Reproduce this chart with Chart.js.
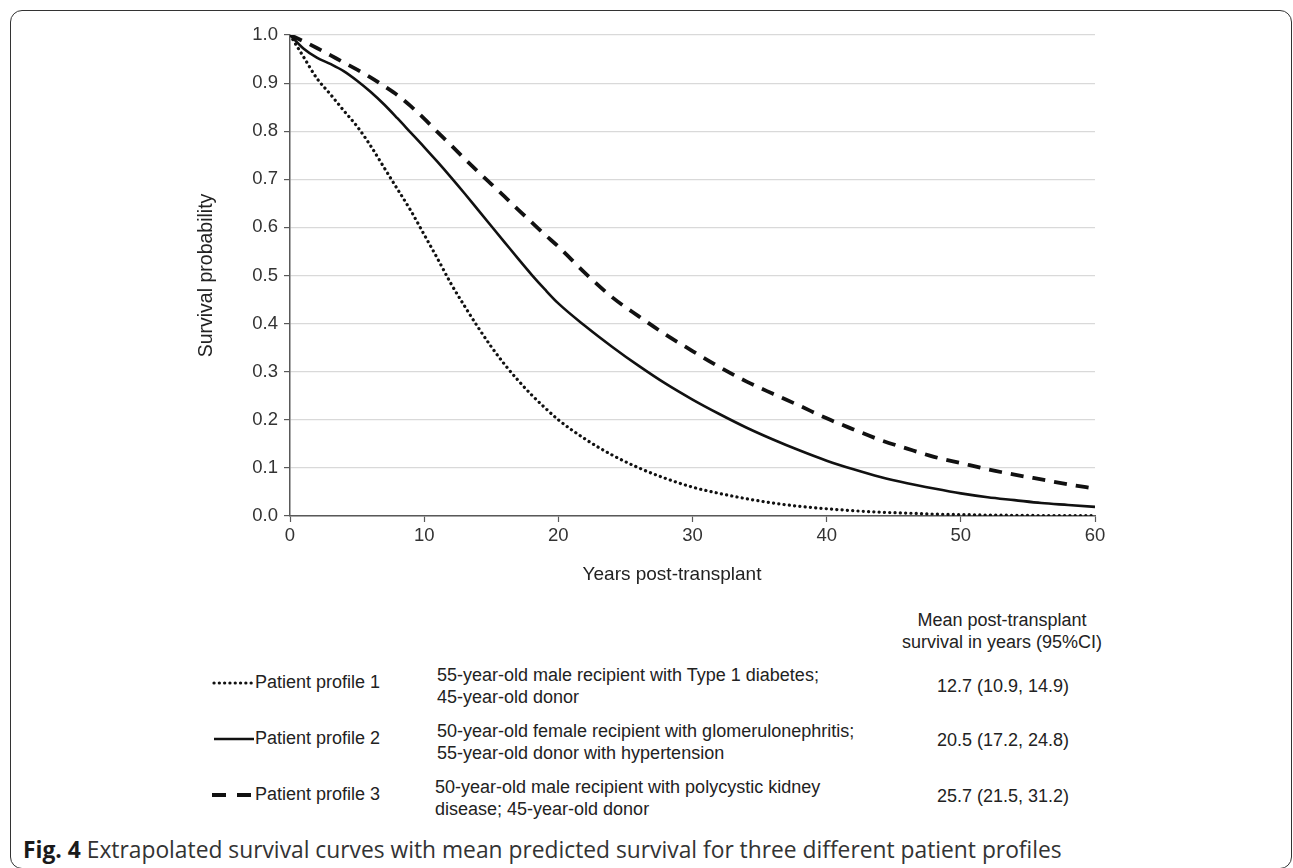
<!DOCTYPE html>
<html>
<head>
<meta charset="utf-8">
<script src="https://cdn.jsdelivr.net/npm/chart.js@4.4.1/dist/chart.umd.min.js"></script>
<style>
  html, body { margin: 0; padding: 0; background: #fff; }
  body { width: 1293px; height: 868px; position: relative; overflow: hidden; font-family: "Liberation Sans", Arial, sans-serif; color: #222; }
  #frame { position: absolute; left: 10px; top: 10px; width: 1282px; height: 859px; border: 1.5px solid #333; border-radius: 12px; box-sizing: border-box; }
  #chartBox { position: absolute; left: 0; top: 0; width: 1293px; height: 600px; }
  .abs { position: absolute; white-space: nowrap; }
  #xtitle { font-size: 19px; color: #222; }
  .hdr { font-size: 18px; text-align: center; width: 300px; }
  .lbl { font-size: 18px; }
  .desc { font-size: 18px; line-height: 22px; }
  .val { font-size: 18px; text-align: center; width: 300px; }
  #caption { font-family: "Open Sans", sans-serif; font-size: 22.8px; color: #333; }
  #caption b { color: #1a1a1a; }
</style>
</head>
<body>
<div id="frame"></div>
<div id="chartBox"><canvas id="c" width="1293" height="600"></canvas></div>
<div id="xtitle" class="abs"></div>
<div id="legend"></div>
<div id="caption" class="abs"></div>
<script>
// ---- data ----
const years = [0,1,2,3,4,5,6,7,8,9,10,11,12,13,14,15,16,17,18,19,20,22,24,26,28,30,32,34,36,38,40,42,44,46,48,50,52,54,56,58,60];
const profile1 = [1.0,0.955,0.91,0.877,0.843,0.81,0.77,0.725,0.68,0.635,0.585,0.535,0.483,0.437,0.393,0.352,0.315,0.282,0.252,0.225,0.2,0.16,0.127,0.1,0.078,0.06,0.047,0.036,0.027,0.02,0.015,0.011,0.008,0.006,0.004,0.003,0.002,0.0015,0.001,0.0008,0.0006];
const profile2 = [1.0,0.972,0.953,0.94,0.925,0.905,0.882,0.856,0.827,0.797,0.767,0.736,0.704,0.671,0.637,0.603,0.569,0.535,0.502,0.471,0.442,0.395,0.352,0.312,0.275,0.242,0.212,0.184,0.159,0.136,0.115,0.097,0.081,0.068,0.057,0.047,0.039,0.033,0.027,0.023,0.019];
const profile3 = [1.0,0.987,0.973,0.958,0.943,0.928,0.912,0.894,0.875,0.852,0.826,0.798,0.771,0.743,0.716,0.69,0.664,0.637,0.611,0.585,0.56,0.505,0.455,0.415,0.377,0.343,0.31,0.28,0.254,0.229,0.203,0.18,0.158,0.14,0.123,0.11,0.097,0.086,0.076,0.066,0.057];
const seriesNames = ["Patient profile 1","Patient profile 2","Patient profile 3"];
const descriptions = [
  ["55-year-old male recipient with Type 1 diabetes;","45-year-old donor"],
  ["50-year-old female recipient with glomerulonephritis;","55-year-old donor with hypertension"],
  ["50-year-old male recipient with polycystic kidney","disease; 45-year-old donor"]
];
const meanSurvival = ["12.7 (10.9, 14.9)","20.5 (17.2, 24.8)","25.7 (21.5, 31.2)"];
const yTicks = [0,0.1,0.2,0.3,0.4,0.5,0.6,0.7,0.8,0.9,1.0];
const xTicks = [0,10,20,30,40,50,60];
const yTitle = "Survival probability";
const xTitle = "Years post-transplant";
const legendHeader = ["Mean post-transplant","survival in years (95%CI)"];
const captionBold = "Fig. 4";
const captionText = " Extrapolated survival curves with mean predicted survival for three different patient profiles";

// ---- chart ----
const toPts = arr => years.map((x, i) => ({x: x, y: arr[i]}));
const tickFont = {family: "'Liberation Sans', Arial, sans-serif", size: 18.5};
new Chart(document.getElementById('c'), {
  type: 'line',
  data: {
    datasets: [
      {label: seriesNames[0], data: toPts(profile1), borderColor: '#111', borderWidth: 3.2, borderDash: [0.1, 5.2], borderCapStyle: 'round', pointRadius: 0, cubicInterpolationMode: 'monotone', fill: false},
      {label: seriesNames[1], data: toPts(profile2), borderColor: '#111', borderWidth: 2.6, pointRadius: 0, cubicInterpolationMode: 'monotone', fill: false},
      {label: seriesNames[2], data: toPts(profile3), borderColor: '#111', borderWidth: 3.8, borderDash: [13, 9], pointRadius: 0, cubicInterpolationMode: 'monotone', fill: false}
    ]
  },
  options: {
    responsive: false,
    animation: false,
    devicePixelRatio: 1,
    layout: {padding: {left: 191, top: 35, right: 198, bottom: 0}},
    plugins: {legend: {display: false}, tooltip: {enabled: false}},
    scales: {
      x: {
        type: 'linear', min: 0, max: 60,
        afterBuildTicks: s => { s.ticks = xTicks.map(v => ({value: v})); },
        afterFit: s => { s.height = 84; },
        ticks: {color: '#333', font: tickFont, padding: 3, maxRotation: 0, callback: v => String(v)},
        grid: {drawOnChartArea: false, drawTicks: true, tickLength: 6, tickColor: '#595959', tickWidth: 1.2},
        border: {color: '#595959', width: 1.5},
        title: {display: false}
      },
      y: {
        min: 0, max: 1,
        afterBuildTicks: s => { s.ticks = yTicks.map(v => ({value: v})); },
        afterFit: s => { s.width = 99; },
        ticks: {color: '#333', font: tickFont, padding: 6, callback: v => Number(v).toFixed(1)},
        grid: {color: '#d9d9d9', lineWidth: 1.2, drawTicks: true, tickLength: 6, tickColor: '#595959', tickWidth: 1.2},
        border: {color: '#595959', width: 1.5},
        title: {display: true, text: yTitle, color: '#222', font: {family: "'Liberation Sans', Arial, sans-serif", size: 19.5}, padding: {top: 4, bottom: 4}}
      }
    }
  }
});

// ---- x title (HTML) ----
const xt = document.getElementById('xtitle');
xt.textContent = xTitle;
xt.style.left = '0px'; xt.style.top = '0px';
{
  const w = xt.getBoundingClientRect().width;
  xt.style.left = (672 - w / 2) + 'px';
  xt.style.top = '563px';
}

// ---- legend table (HTML) ----
const lg = document.getElementById('legend');
function addDiv(cls, text, left, top) {
  const d = document.createElement('div');
  d.className = 'abs ' + cls;
  d.textContent = text;
  d.style.left = left + 'px';
  d.style.top = top + 'px';
  lg.appendChild(d);
  return d;
}
addDiv('hdr', legendHeader[0], 852, 610);
addDiv('hdr', legendHeader[1], 852, 632);
const rowY = [683, 739, 795];
const dashes = ['0.1 5.2', '', '14 11'];
const widths = [3.2, 2.6, 3.8];
seriesNames.forEach((name, i) => {
  const y = rowY[i];
  const svg = document.createElementNS('http://www.w3.org/2000/svg', 'svg');
  svg.setAttribute('width', '44'); svg.setAttribute('height', '10');
  svg.style.position = 'absolute'; svg.style.left = '211px'; svg.style.top = (y - 5) + 'px';
  const ln = document.createElementNS('http://www.w3.org/2000/svg', 'line');
  ln.setAttribute('x1', i === 2 ? '1' : '3'); ln.setAttribute('x2', '43');
  ln.setAttribute('y1', '5'); ln.setAttribute('y2', '5');
  ln.setAttribute('stroke', '#111'); ln.setAttribute('stroke-width', widths[i]);
  if (dashes[i]) ln.setAttribute('stroke-dasharray', dashes[i]);
  if (i === 0) ln.setAttribute('stroke-linecap', 'round');
  svg.appendChild(ln);
  lg.appendChild(svg);
  addDiv('lbl', name, 255, y - 11);
  const d = addDiv('desc', '', i === 2 ? 435 : 437, y - 19);
  d.innerHTML = descriptions[i][0] + '<br>' + descriptions[i][1];
  addDiv('val', meanSurvival[i], 853, y - 7 + (i === 0 ? -4 : -6) + 4);
});

// ---- caption ----
const cap = document.getElementById('caption');
const b = document.createElement('b'); b.textContent = captionBold;
cap.appendChild(b); cap.appendChild(document.createTextNode(captionText));
cap.style.left = '23px'; cap.style.top = '834px';
</script>
</body>
</html>
